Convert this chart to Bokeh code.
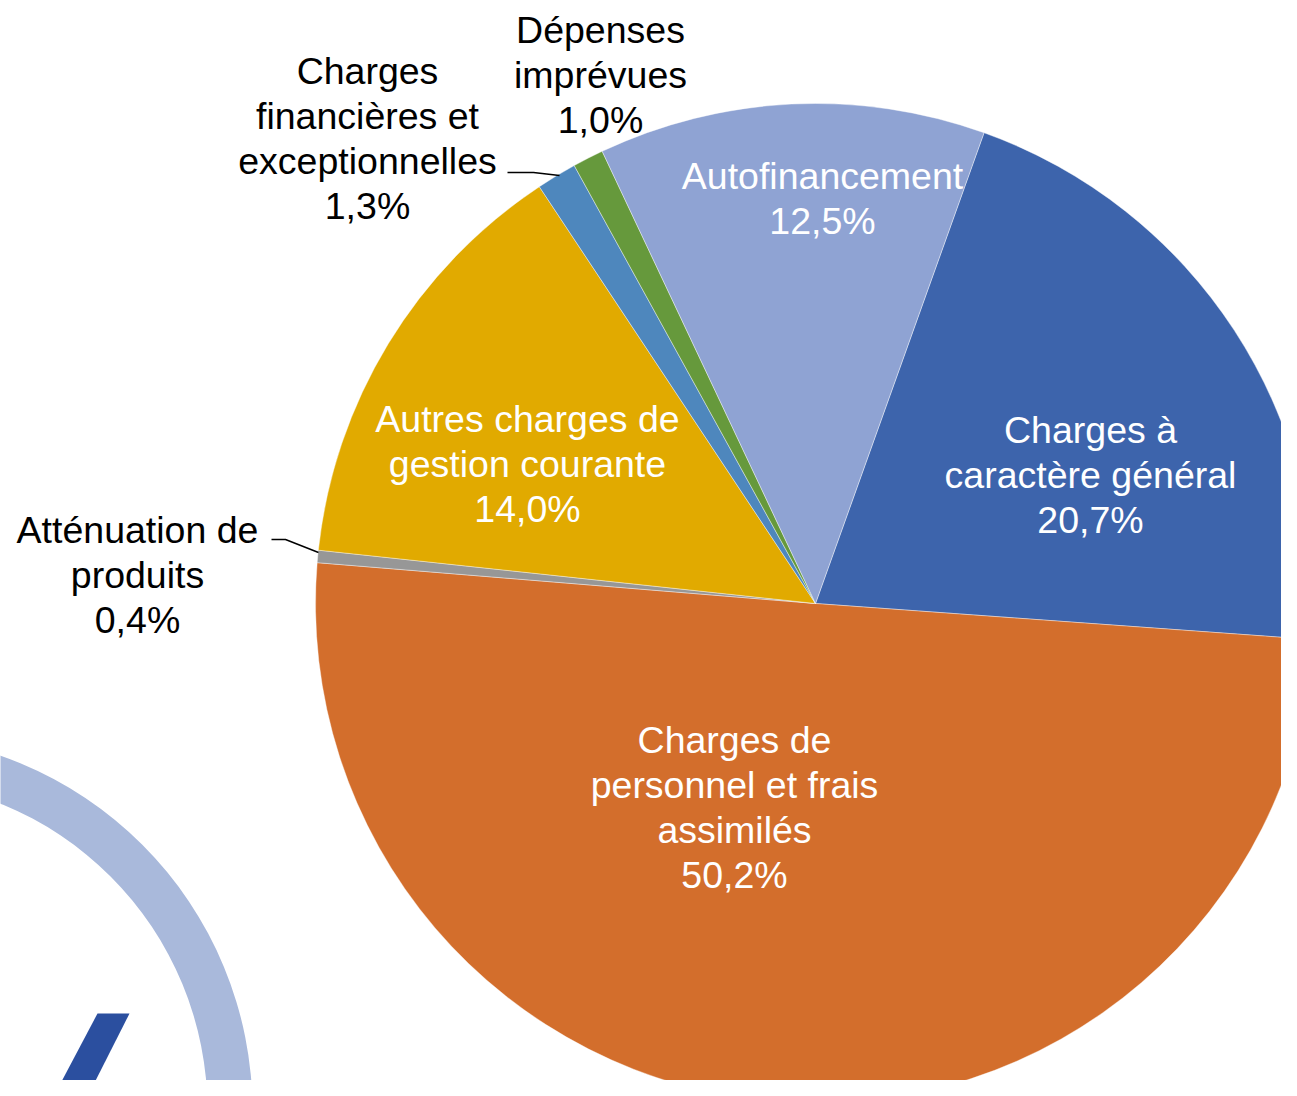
import math
from bokeh.plotting import figure
from bokeh.models import Range1d, ColumnDataSource
from bokeh.core.properties import value
from bokeh.embed import file_html
from bokeh.resources import INLINE

# ---- data ----
categories = [
    "Charges à caractère général",
    "Charges de personnel et frais assimilés",
    "Atténuation de produits",
    "Autres charges de gestion courante",
    "Charges financières et exceptionnelles",
    "Dépenses imprévues",
    "Autofinancement",
]
values = [20.7, 50.2, 0.4, 14.0, 1.3, 1.0, 12.5]
label_lines = [
    ["Charges à", "caractère général"],
    ["Charges de", "personnel et frais", "assimilés"],
    ["Atténuation de", "produits"],
    ["Autres charges de", "gestion courante"],
    ["Charges", "financières et", "exceptionnelles"],
    ["Dépenses", "imprévues"],
    ["Autofinancement"],
]

# ---- style / layout ----
colors = ["#3D64AC", "#D36E2C", "#979797", "#E1AA00", "#4E87BD", "#66993C", "#8FA3D3"]
text_colors = ["white", "white", "black", "white", "black", "black", "white"]
# label anchor: centre x, first baseline y (reference pixels)
label_pos = [(1090, 429), (734, 739), (137, 529), (527, 418), (367, 70), (600, 29), (822, 175)]
LINE_H = 45.3
CX, CY, R = 815, 603, 500
START_DEG = 19.7  # clockwise from 12 o'clock

W, H = 1281, 1080
p = figure(width=W, height=H, x_range=Range1d(0, W), y_range=Range1d(-H, 0),
           output_backend="svg", toolbar_location=None, min_border=0,
           x_axis_type=None, y_axis_type=None)
p.grid.visible = False
p.outline_line_color = None
p.background_fill_color = "white"
p.border_fill_color = "white"

# decorative logo (bottom-left)
p.annulus(x=[-124], y=[-1110], inner_radius=331, outer_radius=376,
          fill_color="#A9B9DB", line_color=None)
p.patch(x=[97, 129, 85, 51], y=[-1013, -1013, -1100, -1100],
        fill_color="#2B4F9F", line_color=None)

# wedges
total = sum(values)
starts, ends = [], []
cum = 0.0
for v in values:
    a0 = 90 - START_DEG - cum / total * 360
    cum += v
    a1 = 90 - START_DEG - cum / total * 360
    starts.append(math.radians(a0))
    ends.append(math.radians(a1))

src = ColumnDataSource(dict(x=[CX] * len(values), y=[-CY] * len(values),
                            start=starts, end=ends, color=colors, cat=categories))
p.wedge(x="x", y="y", radius=R, start_angle="start", end_angle="end",
        direction="clock", fill_color="color", line_color="white", line_width=0.4,
        source=src)

# leader lines
p.line(x=[507, 533, 559], y=[-172, -172, -175], line_color="black", line_width=1.5)
p.line(x=[271, 285, 318], y=[-539, -539, -552], line_color="black", line_width=1.5)

# labels
tx, ty, tt, tc = [], [], [], []
for lines, v, (lx, ly), col in zip(label_lines, values, label_pos, text_colors):
    pct = f"{v:.1f}".replace(".", ",") + "%"
    for k, s in enumerate(lines + [pct]):
        tx.append(lx)
        ty.append(-(ly + k * LINE_H))
        tt.append(s)
        tc.append(col)
p.text(x=tx, y=ty, text=tt, text_color=tc, text_align="center",
       text_baseline="alphabetic", text_font=value("Liberation Sans"),
       text_font_size="37.5px")

open("out.html", "w").write(file_html(p, INLINE))
